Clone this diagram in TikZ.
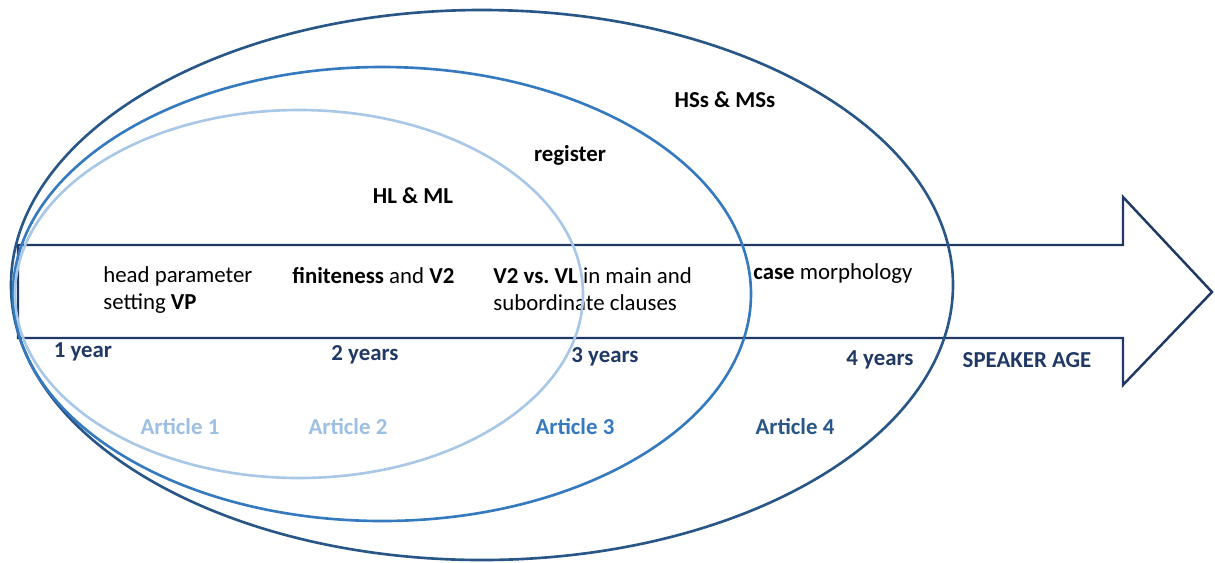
\documentclass[tikz,border=0pt]{standalone}
\usepackage{fontspec}
\setmainfont{Carlito}
\usetikzlibrary{calc}

\definecolor{navy}{HTML}{1F3864}
\definecolor{outerblue}{HTML}{285686}
\definecolor{midblue}{HTML}{3579BE}
\definecolor{lightblue}{HTML}{A9C7E6}

\begin{document}
\begin{tikzpicture}[x=0.02cm, y=-0.02cm,
    txt/.style={font=\fontsize{13}{15.5}\selectfont, inner sep=0pt, align=left},
    agetxt/.style={txt, font=\fontsize{13}{15.5}\selectfont\bfseries, text=navy},
    arttxt/.style={txt, font=\fontsize{13}{15.5}\selectfont\bfseries},
    ring/.style={line width=1.5pt}]
      \useasboundingbox (0, 0) rectangle (1215, 562);
      % age arrow
      \draw [navy, line width=1.4pt, line join=miter]
        (18, 245) -- (1123, 245) -- (1123, 197) -- (1212, 292) -- (1123, 385)
        -- (1123, 338) -- (18, 338) -- cycle;
      % groups
      \node [arttxt] (hsms) at (725, 100) {HSs \& MSs};
      \node [arttxt] (register) at (570, 155) {register};
      \node [arttxt] (hlml) at (413, 196) {HL \& ML};
      % phenomena
      \node [txt, anchor=west] (headpar) at (103, 290) {head parameter\\setting \textbf{VP}};
      \node [txt, anchor=west] (finite) at (292, 276) {\textbf{finiteness} and \textbf{V2}};
      \node [txt, anchor=west] (vtwovl) at (493, 289) {\textbf{V2 vs.\ VL} in main and\\subordinate clauses};
      \node [txt, anchor=west] (casemorph) at (753, 274) {\textbf{case} morphology};
      % ages
      \node [agetxt] (year1) at (83, 352) {1 year};
      \node [agetxt] (year2) at (365, 355) {2 years};
      \node [agetxt] (year3) at (605, 357) {3 years};
      \node [agetxt] (year4) at (880, 360) {4 years};
      \node [agetxt] (speakerage) at (1027, 360) {SPEAKER AGE};
      % articles
      \node [arttxt, text=lightblue!90!midblue] (art1) at (180, 427) {Article 1};
      \node [arttxt, text=lightblue!90!midblue] (art2) at (348, 427) {Article 2};
      \node [arttxt, text=midblue] (art3) at (575, 427) {Article 3};
      \node [arttxt, text=outerblue] (art4) at (795, 427) {Article 4};
      % rings
      \draw [ring, outerblue] (482, 285) ellipse [x radius=471, y radius=275];
      \draw [ring, midblue] (382, 294) ellipse [x radius=369, y radius=227];
      \draw [ring, lightblue] (299, 294) ellipse [x radius=284, y radius=184];
    \end{tikzpicture}
\end{document}
